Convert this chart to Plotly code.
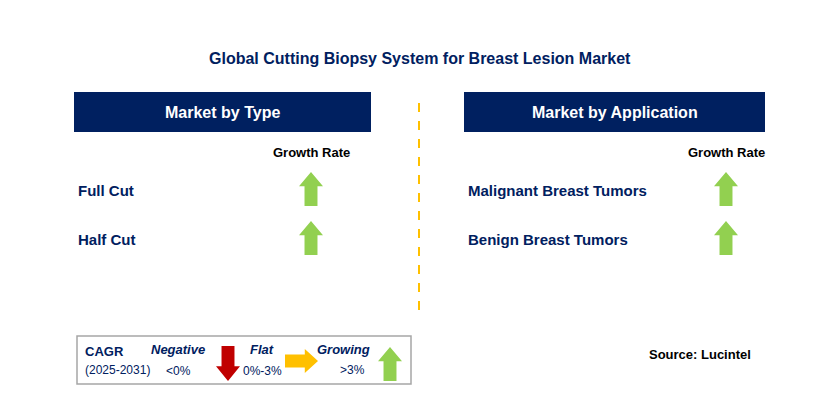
import plotly.graph_objects as go

# chart content
title = "Global Cutting Biopsy System for Breast Lesion Market"
panel_titles = ["Market by Type", "Market by Application"]
type_labels = ["Full Cut", "Half Cut"]
type_growth = ["up", "up"]
app_labels = ["Malignant Breast Tumors", "Benign Breast Tumors"]
app_growth = ["up", "up"]
source = "Source: Lucintel"

W, H = 829, 417
OFF = 8  # page body margin offset
NAVY = "#002060"
GREEN = "#92D050"
RED = "#C00000"
YELLOW = "#FFC000"

fig = go.Figure()
shapes = []
ann = []


def up_arrow(cx, top, bot, w=24, color=GREEN):
    head = (bot - top) * 0.42
    s = w * 0.27
    h = w / 2
    p = (f"M{cx},{top} L{cx+h},{top+head} L{cx+s},{top+head} L{cx+s},{bot} "
         f"L{cx-s},{bot} L{cx-s},{top+head} L{cx-h},{top+head} Z")
    return dict(type="path", path=p, fillcolor=color, line=dict(width=0), layer="above")


def down_arrow(cx, top, bot, w=24, color=RED):
    head = (bot - top) * 0.42
    s = w * 0.27
    h = w / 2
    p = (f"M{cx},{bot} L{cx+h},{bot-head} L{cx+s},{bot-head} L{cx+s},{top} "
         f"L{cx-s},{top} L{cx-s},{bot-head} L{cx-h},{bot-head} Z")
    return dict(type="path", path=p, fillcolor=color, line=dict(width=0), layer="above")


def right_arrow(left, right, cy, hgt=22, color=YELLOW):
    head = (right - left) * 0.4
    s = hgt * 0.27
    h = hgt / 2
    p = (f"M{right},{cy} L{right-head},{cy-h} L{right-head},{cy-s} L{left},{cy-s} "
         f"L{left},{cy+s} L{right-head},{cy+s} L{right-head},{cy+h} Z")
    return dict(type="path", path=p, fillcolor=color, line=dict(width=0), layer="above")


def txt(x, y, t, size=14, color=NAVY, bold=True, italic=False, xanchor="left"):
    s = t
    if bold:
        s = "<b>" + s + "</b>"
    if italic:
        s = "<i>" + s + "</i>"
    ann.append(dict(x=x, y=y, text=s, showarrow=False, xanchor=xanchor, yanchor="middle",
                    font=dict(size=size, color=color, family="Arial, Liberation Sans")))


txt(W / 2 + 5, 58, title, size=16, xanchor="center")

# panels
panels = [(74, 371, 311, type_labels, type_growth), (464, 765, 726, app_labels, app_growth)]
for (x0, x1, ax, labels, growth), pt in zip(panels, panel_titles):
    shapes.append(dict(type="rect", x0=x0, x1=x1, y0=92, y1=132, fillcolor=NAVY, line=dict(width=0)))
    txt((x0 + x1) / 2, 112, pt, size=16, color="white", xanchor="center")
    txt(ax, 152, "Growth Rate", size=13, color="black", xanchor="center")
    for i, (lab, g) in enumerate(zip(labels, growth)):
        yc = 190 + i * 49
        txt(x0 + 2, yc, lab, size=15)
        if g == "up":
            shapes.append(up_arrow(ax, yc - 18, yc + 16))
        elif g == "down":
            shapes.append(down_arrow(ax, yc - 18, yc + 16))
        else:
            shapes.append(right_arrow(ax - 16, ax + 16, yc))

shapes.append(dict(type="line", x0=419, x1=419, y0=103, y1=310,
                   line=dict(color=YELLOW, width=2, dash="dash")))

# legend box
shapes.append(dict(type="rect", x0=77, x1=411, y0=336, y1=384, fillcolor="white",
                   line=dict(color="#A6A6A6", width=1.5)))
txt(83, 351, "CAGR", size=13)
txt(83, 370, "(2025-2031)", size=12, bold=False)
txt(178, 349, "Negative", size=13, italic=True, xanchor="center")
txt(178, 371, "&lt;0%", size=12, bold=False, xanchor="center")
shapes.append(down_arrow(228, 346, 381, w=24))
txt(262, 349, "Flat", size=13, italic=True, xanchor="center")
txt(262, 371, "0%-3%", size=12, bold=False, xanchor="center")
shapes.append(right_arrow(285, 318, 361, hgt=24))
txt(343, 349, "Growing", size=13, italic=True, xanchor="center")
txt(352, 370, "&gt;3%", size=12, bold=False, xanchor="center")
shapes.append(up_arrow(390, 347, 381, w=24))

txt(700, 354, source, size=13, color="black", xanchor="center")

fig.update_layout(
    width=W, height=H, margin=dict(l=0, r=0, t=0, b=0),
    paper_bgcolor="white", plot_bgcolor="white",
    xaxis=dict(range=[OFF, W + OFF], visible=False, fixedrange=True),
    yaxis=dict(range=[H + OFF, OFF], visible=False, fixedrange=True),
    shapes=shapes, annotations=ann, showlegend=False,
)
fig.write_html("out.html", config={"displayModeBar": False})
